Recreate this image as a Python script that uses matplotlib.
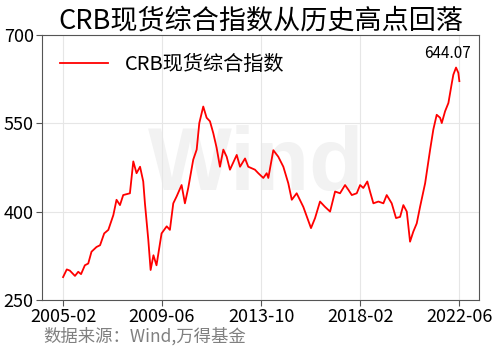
import matplotlib
matplotlib.use("Agg")
import matplotlib.pyplot as plt
import pandas as pd

plt.rcParams['font.family'] = ['Noto Sans CJK SC', 'DejaVu Sans']

# CRB spot index
dates = [
    "2005-02-01", "2005-04-01", "2005-05-20", "2005-08-10", "2005-10-01", "2005-11-15",
    "2006-01-15", "2006-03-10", "2006-05-01", "2006-07-20", "2006-09-15", "2006-11-20",
    "2007-01-25", "2007-04-15", "2007-06-05", "2007-07-30", "2007-09-20", "2008-01-05",
    "2008-02-28", "2008-04-20", "2008-06-15", "2008-08-05", "2008-09-01", "2008-10-25",
    "2008-12-01", "2009-01-15", "2009-03-05", "2009-05-25", "2009-08-15", "2009-10-05",
    "2009-11-28", "2010-01-22", "2010-04-10", "2010-06-02", "2010-07-25", "2010-10-13",
    "2010-12-07", "2011-01-18", "2011-03-22", "2011-05-15", "2011-07-07", "2011-08-29",
    "2011-10-22", "2011-12-14", "2012-02-06", "2012-03-30", "2012-05-22", "2012-09-07",
    "2012-10-30", "2013-01-18", "2013-03-10", "2013-06-25", "2013-08-18", "2013-11-06",
    "2013-12-30", "2014-01-25", "2014-04-15", "2014-07-03", "2014-09-22", "2014-12-10",
    "2015-02-04", "2015-04-23", "2015-08-07", "2015-12-08", "2016-02-11", "2016-04-30",
    "2016-07-19", "2016-10-08", "2016-12-27", "2017-03-16", "2017-06-04", "2017-07-27",
    "2017-09-20", "2017-12-08", "2018-01-31", "2018-03-23", "2018-05-26", "2018-07-08",
    "2018-08-31", "2018-11-19", "2019-02-07", "2019-04-01", "2019-06-20", "2019-08-28",
    "2019-11-01", "2019-12-23", "2020-02-16", "2020-04-08", "2020-05-30", "2020-07-24",
    "2020-09-15", "2020-12-05", "2021-02-23", "2021-04-15", "2021-06-08", "2021-08-01",
    "2021-08-28", "2021-10-20", "2021-12-12", "2022-02-05", "2022-03-01", "2022-04-13",
    "2022-05-20", "2022-06-05",
]
values = [
    289, 302, 300, 291, 298, 294,
    309, 312, 332, 340, 343, 363,
    369, 394, 420, 411, 428, 431,
    485, 465, 476, 451, 414, 352,
    301, 326, 309, 363, 375, 369,
    414, 426, 445, 414, 440, 488,
    505, 550, 578, 559, 553, 533,
    508, 476, 505, 493, 471, 496,
    476, 490, 476, 471, 465, 457,
    465, 457, 504, 493, 476, 448,
    420, 431, 408, 372, 389, 417,
    408, 400, 434, 431, 445, 437,
    428, 431, 445, 440, 451, 434,
    414, 417, 414, 428, 414, 389,
    391, 411, 400, 349, 366, 380,
    408, 448, 505, 539, 564, 559,
    550, 570, 584, 618, 632, 644.07,
    635, 621,
]
tick_dates = ["2005-02-01", "2009-06-01", "2013-10-01", "2018-02-01", "2022-06-01"]
tick_labels = ["2005-02", "2009-06", "2013-10", "2018-02", "2022-06"]
y_ticks = [250, 400, 550, 700]
peak_date = "2022-04-13"
peak_value = 644.07

x = pd.to_datetime(dates)

fig = plt.figure(figsize=(5, 3.56), dpi=100)
ax = fig.add_axes([0.084, 0.157, 0.874, 0.746])

# watermark
ax.text(0.49, 0.50, "Wind", transform=ax.transAxes, fontsize=64, fontweight="bold",
        family="Liberation Sans", color="#f2f2f2", ha="center", va="center", zorder=0)

ax.plot(x, values, color="#ff0000", linewidth=1.3, label="CRB现货综合指数", zorder=3)
ax.annotate("644.07", xy=(pd.Timestamp(peak_date), peak_value), xytext=(-6, 4),
            textcoords="offset points", ha="center", va="bottom", fontsize=11)

ax.set_xlim(pd.Timestamp("2004-03-01"), pd.Timestamp("2023-04-15"))
ax.set_ylim(250, 700)
ax.set_xticks(pd.to_datetime(tick_dates))
ax.set_xticklabels(tick_labels)
ax.set_yticks(y_ticks)
ax.tick_params(labelsize=13, length=4, color="#555555", pad=2)
ax.grid(True, color="#e6e6e6", linewidth=0.8)
ax.set_axisbelow(True)
for s in ax.spines.values():
    s.set_color("#555555")

ax.legend(loc="upper left", frameon=False, fontsize=14.5, handlelength=2.4,
          bbox_to_anchor=(0.0, 0.995))
ax.set_title("CRB现货综合指数从历史高点回落", fontsize=19.5, pad=3)
fig.text(0.086, 0.04, "数据来源：Wind,万得基金", fontsize=12.5, color="#808080")

fig.savefig("out.png", dpi=100)
